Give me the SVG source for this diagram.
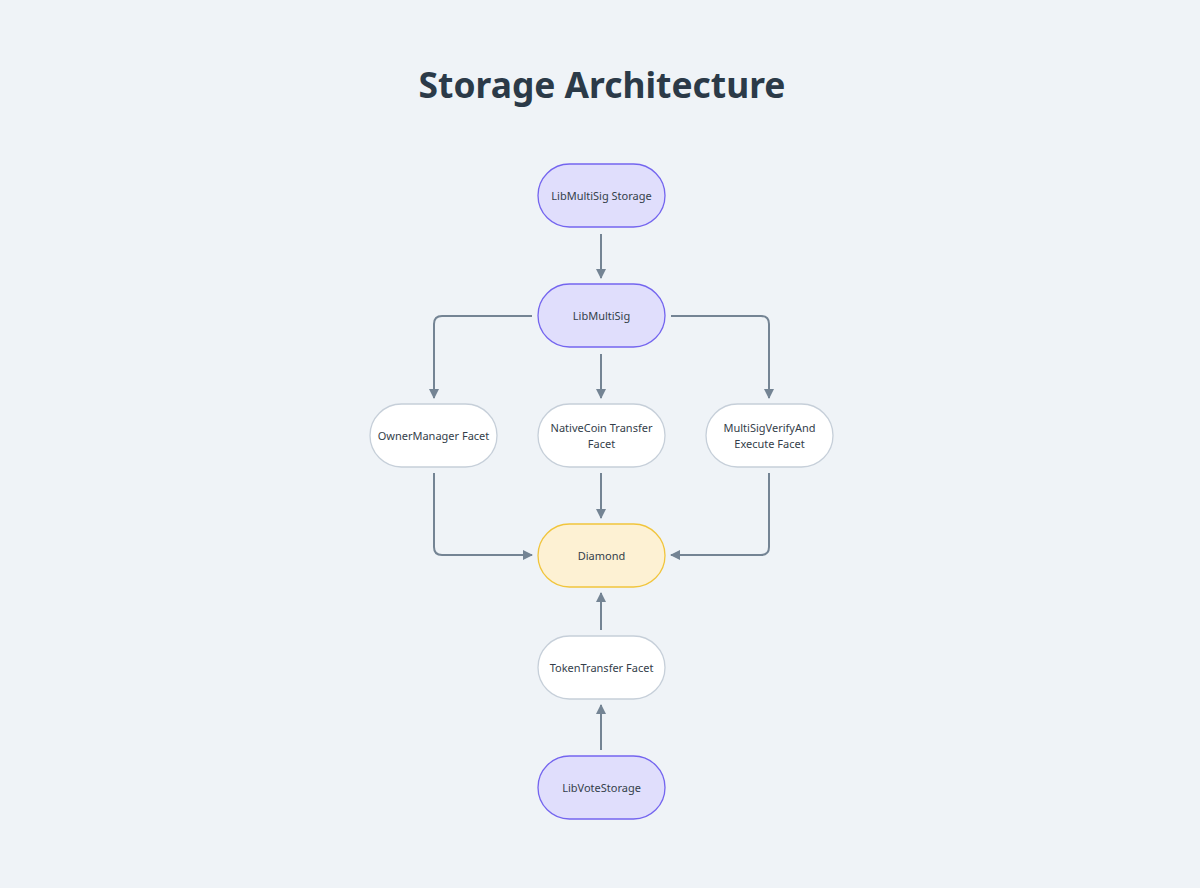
<svg xmlns="http://www.w3.org/2000/svg" width="1200" height="888" viewBox="0 0 1200 888">
<defs>
<marker id="ah" viewBox="0 0 10 10" refX="9" refY="5" markerWidth="5" markerHeight="5" orient="auto" markerUnits="strokeWidth">
<path d="M0,0 L10,5 L0,10 z" fill="#748494"/>
</marker>
<style>
.title{font-family:"Noto Sans","DejaVu Sans",sans-serif;font-weight:bold;font-size:35.4px;fill:#2b3a48}
.lbl{font-family:"Noto Sans","DejaVu Sans",sans-serif;font-size:11px;fill:#343e4a;text-anchor:middle}
.lib{fill:#e0defc;stroke:#7465ef;stroke-width:1.3}
.facet{fill:#ffffff;stroke:#c6cfd9;stroke-width:1.3}
.dia{fill:#fdf1d3;stroke:#f1c53c;stroke-width:1.3}
.edge{fill:none;stroke:#748494;stroke-width:2;marker-end:url(#ah)}
</style>
</defs>
<rect width="1200" height="888" fill="#eff3f7"/>
<text class="title" x="602" y="98" text-anchor="middle">Storage Architecture</text>
<g id="connectors">
<path class="edge" d="M601,234 V278"/>
<path class="edge" d="M532,316 H442 Q434,316 434,324 V398"/>
<path class="edge" d="M601,354 V398"/>
<path class="edge" d="M671,316 H761 Q769,316 769,324 V398"/>
<path class="edge" d="M434,473 V547 Q434,555 442,555 H532"/>
<path class="edge" d="M601,473 V518"/>
<path class="edge" d="M769,473 V547 Q769,555 761,555 H671"/>
<path class="edge" d="M601,630 V593"/>
<path class="edge" d="M601,750 V705"/>
</g>
<g id="n-libmultisig-storage">
<rect class="lib" x="538" y="164" width="127" height="63" rx="31.5"/>
<text class="lbl" x="601.5" y="199.5">LibMultiSig Storage</text>
</g>
<g id="n-libmultisig">
<rect class="lib" x="538" y="284" width="127" height="63" rx="31.5"/>
<text class="lbl" x="601.5" y="319.5">LibMultiSig</text>
</g>
<g id="n-ownermanager">
<rect class="facet" x="370" y="404" width="127" height="63" rx="31.5"/>
<text class="lbl" x="433.5" y="439.5">OwnerManager Facet</text>
</g>
<g id="n-nativecoin">
<rect class="facet" x="538" y="404" width="127" height="63" rx="31.5"/>
<text class="lbl" x="601.5" y="431.5">NativeCoin Transfer</text>
<text class="lbl" x="601.5" y="447.5">Facet</text>
</g>
<g id="n-multisigverify">
<rect class="facet" x="706" y="404" width="127" height="63" rx="31.5"/>
<text class="lbl" x="769.5" y="431.5">MultiSigVerifyAnd</text>
<text class="lbl" x="769.5" y="447.5">Execute Facet</text>
</g>
<g id="n-diamond">
<rect class="dia" x="538" y="524" width="127" height="63" rx="31.5"/>
<text class="lbl" x="601.5" y="559.5">Diamond</text>
</g>
<g id="n-tokentransfer">
<rect class="facet" x="538" y="636" width="127" height="63" rx="31.5"/>
<text class="lbl" x="601.5" y="671.5">TokenTransfer Facet</text>
</g>
<g id="n-libvotestorage">
<rect class="lib" x="538" y="756" width="127" height="63" rx="31.5"/>
<text class="lbl" x="601.5" y="791.5">LibVoteStorage</text>
</g>
</svg>
